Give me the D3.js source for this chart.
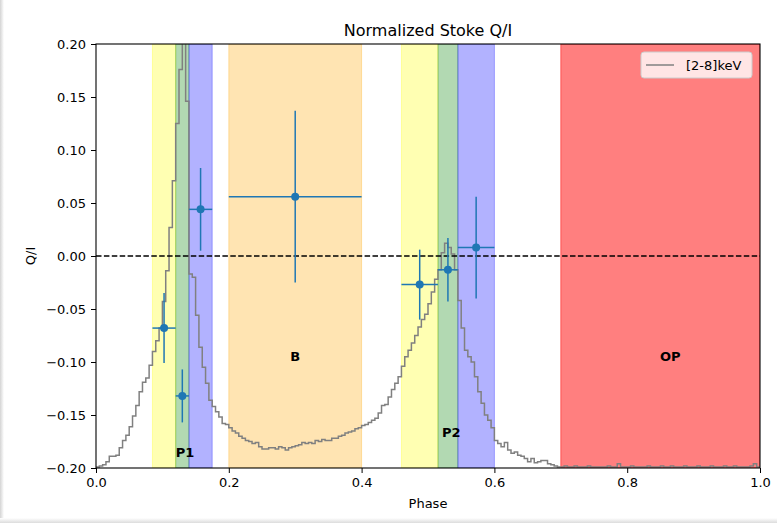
<!DOCTYPE html>
<html>
<head>
<meta charset="utf-8">
<script src="https://cdn.jsdelivr.net/npm/d3@7"></script>
<style>
  body { margin: 0; background: #fff; }
  svg { display: block; font-family: "DejaVu Sans", sans-serif; }
</style>
</head>
<body>
<script>
// pulse profile, 200 bins over phase 0..1, scaled into Q/I units
const profile = [
  -0.199, -0.198, -0.197, -0.194, -0.189, -0.189, -0.188, -0.181, -0.174, -0.169,
  -0.161, -0.151, -0.141, -0.128, -0.119, -0.115, -0.103, -0.090, -0.080, -0.068,
  -0.043, -0.014, 0.027, 0.071, 0.125, 0.176, 0.260, 0.146, -0.017, -0.020,
  -0.056, -0.086, -0.105, -0.120, -0.136, -0.142, -0.147, -0.152, -0.158, -0.159,
  -0.162, -0.165, -0.167, -0.170, -0.172, -0.174, -0.175, -0.177, -0.176, -0.180,
  -0.182, -0.182, -0.181, -0.181, -0.182, -0.180, -0.181, -0.183, -0.181, -0.180,
  -0.179, -0.178, -0.176, -0.177, -0.176, -0.177, -0.174, -0.175, -0.173, -0.174,
  -0.174, -0.172, -0.172, -0.170, -0.169, -0.167, -0.166, -0.165, -0.163, -0.162,
  -0.160, -0.159, -0.157, -0.155, -0.153, -0.148, -0.141, -0.140, -0.133, -0.126,
  -0.120, -0.114, -0.104, -0.095, -0.089, -0.082, -0.075, -0.067, -0.060, -0.055,
  -0.045, -0.034, -0.022, -0.013, 0.003, 0.012, 0.008, 0.002, -0.013, -0.042,
  -0.068, -0.089, -0.095, -0.100, -0.114, -0.128, -0.139, -0.150, -0.155, -0.162,
  -0.174, -0.177, -0.180, -0.176, -0.183, -0.186, -0.185, -0.188, -0.189, -0.191,
  -0.194, -0.191, -0.195, -0.194, -0.193, -0.193, -0.196, -0.197, -0.198, -0.199,
  -0.199, -0.198, -0.199, -0.199, -0.198, -0.199, -0.199, -0.199, -0.198, -0.199,
  -0.199, -0.199, -0.199, -0.199, -0.198, -0.199, -0.199, -0.196, -0.199, -0.199,
  -0.199, -0.198, -0.199, -0.199, -0.199, -0.199, -0.198, -0.199, -0.199, -0.199,
  -0.198, -0.199, -0.199, -0.198, -0.199, -0.199, -0.199, -0.198, -0.199, -0.199,
  -0.199, -0.198, -0.199, -0.199, -0.199, -0.198, -0.199, -0.199, -0.199, -0.198,
  -0.199, -0.199, -0.198, -0.199, -0.199, -0.199, -0.199, -0.198, -0.196, -0.199
];

// phase intervals that are shaded
const bandStart = [0.085, 0.12, 0.14, 0.2, 0.46, 0.515, 0.545, 0.7];
const bandEnd   = [0.12, 0.14, 0.175, 0.4, 0.515, 0.545, 0.6, 1.0];
const bandColor = ["yellow", "green", "blue", "orange", "yellow", "green", "blue", "red"];
const bandAlpha = [0.3, 0.3, 0.3, 0.3, 0.3, 0.3, 0.3, 0.5];

// Q/I measurements per phase interval
const qPhase = [0.1025, 0.13, 0.1575, 0.3, 0.4875, 0.53, 0.5725];
const qPhaseErr = [0.0175, 0.01, 0.0175, 0.1, 0.0275, 0.015, 0.0275];
const qVal = [-0.068, -0.132, 0.044, 0.056, -0.027, -0.013, 0.008];
const qErr = [0.033, 0.025, 0.039, 0.081, 0.033, 0.030, 0.048];

const regionName = ["P1", "B", "P2", "OP"];
const regionX = [0.134, 0.3, 0.535, 0.865];
const regionY = [-0.185, -0.095, -0.166, -0.095];

const xTicks = [0, 0.2, 0.4, 0.6, 0.8, 1.0];
const yTicks = [-0.20, -0.15, -0.10, -0.05, 0.00, 0.05, 0.10, 0.15, 0.20];

const W = 777, H = 523;
const margin = {left: 96, right: 17, top: 44, bottom: 55};

const svg = d3.select("body").append("svg")
    .attr("width", W).attr("height", H);

const x = d3.scaleLinear().domain([0, 1]).range([margin.left, W - margin.right]);
const y = d3.scaleLinear().domain([-0.2, 0.2]).range([H - margin.bottom, margin.top]);

// faint window shadow on the left and bottom edges
let defs = svg.append("defs");
let gl = defs.append("linearGradient").attr("id", "shadeL").attr("x1", 0).attr("x2", 1).attr("y1", 0).attr("y2", 0);
gl.append("stop").attr("offset", 0).attr("stop-color", "#d4d4d4");
gl.append("stop").attr("offset", 1).attr("stop-color", "#fff");
let gb = defs.append("linearGradient").attr("id", "shadeB").attr("x1", 0).attr("x2", 0).attr("y1", 1).attr("y2", 0);
gb.append("stop").attr("offset", 0).attr("stop-color", "#dcdcdc");
gb.append("stop").attr("offset", 1).attr("stop-color", "#fff");
svg.append("rect").attr("x", 0).attr("y", 0).attr("width", 4).attr("height", H).attr("fill", "url(#shadeL)");
svg.append("rect").attr("x", 0).attr("y", H - 5).attr("width", W).attr("height", 5).attr("fill", "url(#shadeB)");

svg.append("clipPath").attr("id", "plotclip")
  .append("rect")
    .attr("x", x(0)).attr("y", y(0.2))
    .attr("width", x(1) - x(0)).attr("height", y(-0.2) - y(0.2));

const plot = svg.append("g").attr("clip-path", "url(#plotclip)");

// shaded phase bands
plot.selectAll("rect.band").data(bandStart)
  .enter().append("rect")
    .attr("class", "band")
    .attr("x", (d) => x(d))
    .attr("y", y(0.2))
    .attr("width", (d, i) => x(bandEnd[i]) - x(d))
    .attr("height", y(-0.2) - y(0.2))
    .attr("fill", (d, i) => bandColor[i])
    .attr("fill-opacity", (d, i) => bandAlpha[i])
    .attr("stroke", (d, i) => bandColor[i])
    .attr("stroke-opacity", (d, i) => bandAlpha[i])
    .attr("stroke-width", 1);

// pulse profile as steps
let nb = profile.length;
let pts = profile.map((v, i) => [i / nb, v]);
pts.push([1, profile[nb - 1]]);
plot.append("path")
    .datum(pts)
    .attr("fill", "none")
    .attr("stroke", "gray")
    .attr("stroke-width", 1.5)
    .attr("d", d3.line().x((d) => x(d[0])).y((d) => y(d[1])).curve(d3.curveStepAfter));

// zero line
plot.append("line")
    .attr("x1", x(0)).attr("x2", x(1))
    .attr("y1", y(0)).attr("y2", y(0))
    .attr("stroke", "black").attr("stroke-width", 1.5)
    .attr("stroke-dasharray", "5.5,2.4");

// error bars
let eb = plot.append("g").attr("stroke", "#1f77b4").attr("stroke-width", 1.5);
eb.selectAll("line.xe").data(qPhase).enter().append("line")
    .attr("x1", (d, i) => x(d - qPhaseErr[i]))
    .attr("x2", (d, i) => x(d + qPhaseErr[i]))
    .attr("y1", (d, i) => y(qVal[i]))
    .attr("y2", (d, i) => y(qVal[i]));
eb.selectAll("line.ye").data(qPhase).enter().append("line")
    .attr("x1", (d) => x(d))
    .attr("x2", (d) => x(d))
    .attr("y1", (d, i) => y(qVal[i] - qErr[i]))
    .attr("y2", (d, i) => y(qVal[i] + qErr[i]));
plot.selectAll("circle").data(qPhase).enter().append("circle")
    .attr("cx", (d) => x(d))
    .attr("cy", (d, i) => y(qVal[i]))
    .attr("r", 4)
    .attr("fill", "#1f77b4");

// region labels
svg.selectAll("text.region").data(regionName).enter().append("text")
    .attr("x", (d, i) => x(regionX[i]))
    .attr("y", (d, i) => y(regionY[i]))
    .attr("text-anchor", "middle")
    .attr("dy", "0.36em")
    .attr("font-weight", "bold")
    .attr("font-size", 13)
    .text((d) => d);

// axes
const fmt = (d) => d3.format(".2f")(d).replace("-", "\u2212");
let xAxis = svg.append("g")
    .attr("transform", `translate(0,${y(-0.2)})`)
    .call(d3.axisBottom(x).tickValues(xTicks).tickFormat(d3.format(".1f")).tickSizeOuter(0).tickSize(5).tickPadding(5));
let yAxis = svg.append("g")
    .attr("transform", `translate(${x(0)},0)`)
    .call(d3.axisLeft(y).tickValues(yTicks).tickFormat(fmt).tickSizeOuter(0).tickSize(5).tickPadding(5));
[xAxis, yAxis].forEach(function(a) {
    a.selectAll("text").attr("font-size", 13).attr("font-family", "DejaVu Sans").attr("fill", "#000");
    a.selectAll("line").attr("stroke", "#000");
    a.select(".domain").remove();
});

// frame
svg.append("rect")
    .attr("x", x(0)).attr("y", y(0.2))
    .attr("width", x(1) - x(0)).attr("height", y(-0.2) - y(0.2))
    .attr("fill", "none").attr("stroke", "#000").attr("stroke-width", 1.1);

// titles
svg.append("text")
    .attr("x", (x(0) + x(1)) / 2).attr("y", 36)
    .attr("text-anchor", "middle").attr("font-size", 16)
    .text("Normalized Stoke Q/I");
svg.append("text")
    .attr("x", (x(0) + x(1)) / 2).attr("y", 508)
    .attr("text-anchor", "middle").attr("font-size", 13)
    .text("Phase");
svg.append("text")
    .attr("transform", `translate(35,${y(0)}) rotate(-90)`)
    .attr("text-anchor", "middle").attr("font-size", 13)
    .text("Q/I");

// legend
let lg = svg.append("g").attr("transform", `translate(${x(1) - 119},${y(0.2) + 8})`);
lg.append("rect")
    .attr("width", 111).attr("height", 26).attr("rx", 3)
    .attr("fill", "#fff").attr("fill-opacity", 0.8)
    .attr("stroke", "#ccc").attr("stroke-width", 1);
lg.append("line")
    .attr("x1", 5).attr("x2", 33).attr("y1", 13).attr("y2", 13)
    .attr("stroke", "gray").attr("stroke-width", 1.5);
lg.append("text")
    .attr("x", 45).attr("y", 18).attr("font-size", 13)
    .text("[2-8]keV");
</script>
</body>
</html>
